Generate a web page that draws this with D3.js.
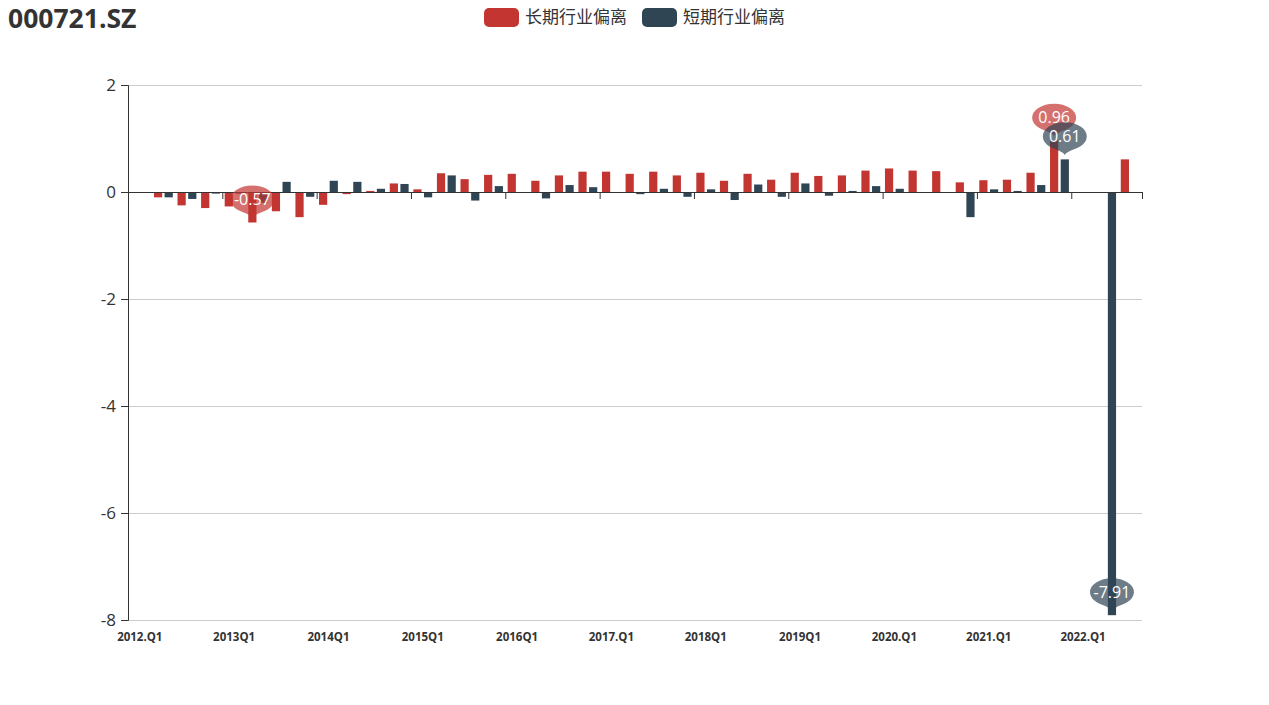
<!DOCTYPE html>
<html><head><meta charset="utf-8">
<script src="https://cdn.jsdelivr.net/npm/d3@7"></script>
<style>html,body{margin:0;padding:0;background:#fff;} svg{display:block;}</style>
</head><body><svg id="c" width="1269" height="705"></svg>
<script>
const categories = [
  "2012.Q1","2012.Q2","2012.Q3","2012.Q4",
  "2013Q1","2013Q2","2013Q3","2013Q4",
  "2014Q1","2014Q2","2014Q3","2014Q4",
  "2015Q1","2015Q2","2015Q3","2015Q4",
  "2016Q1","2016Q2","2016Q3","2016Q4",
  "2017.Q1","2017.Q2","2017.Q3","2017.Q4",
  "2018Q1","2018Q2","2018Q3","2018Q4",
  "2019Q1","2019Q2","2019Q3","2019Q4",
  "2020.Q1","2020.Q2","2020.Q3","2020.Q4",
  "2021.Q1","2021.Q2","2021.Q3","2021.Q4",
  "2022.Q1","2022.Q2","2022.Q3"
];
const seriesNames = ["长期行业偏离", "短期行业偏离"];
const longDev = [null,-0.10,-0.25,-0.30,-0.27,-0.57,-0.36,-0.47,-0.24,-0.04,0.02,0.16,0.05,0.35,0.24,0.32,
  0.34,0.21,0.31,0.38,0.38,0.34,0.38,0.31,0.36,0.21,0.34,0.23,0.36,0.30,0.31,0.40,
  0.44,0.40,0.39,0.18,0.22,0.23,0.36,0.96,null,null,0.61];
const shortDev = [null,-0.10,-0.13,-0.03,-0.03,-0.20,0.19,-0.09,0.21,0.19,0.06,0.15,-0.10,0.31,-0.16,0.11,
  0,-0.12,0.13,0.09,0,-0.04,0.06,-0.09,0.05,-0.15,0.14,-0.09,0.16,-0.07,0.02,0.11,
  0.06,-0.01,0,-0.47,0.05,0.02,0.13,0.61,null,-7.91,null];
const yTicks = [-8,-6,-4,-2,0,2];
const xLabelEvery = 4;
const titleText = "000721.SZ";
const colors = ["#c23531", "#2f4554"];

const svg = d3.select("#c");
const plotL = 128, plotR = 1142, plotT = 85, plotB = 620;
const seriesData = [longDev, shortDev];

const x = d3.scaleBand().domain(categories).range([plotL, plotR]).paddingInner(0).paddingOuter(0);
const xs = d3.scaleBand().domain([0,1]).range([0, x.bandwidth()]).paddingInner(0.3/1.3).paddingOuter(0.2212);
const xIdx = d3.scaleLinear().domain([0, categories.length]).range([plotL, plotR]);
const y = d3.scaleLinear().domain([-8, 2]).range([plotB, plotT]);

// gridlines
svg.append("g").selectAll("line").data(yTicks.filter(t => t !== 0)).join("line")
  .attr("x1", plotL).attr("x2", plotR)
  .attr("y1", d => y(d) + 0.5).attr("y2", d => y(d) + 0.5)
  .attr("stroke", "#ccc").attr("stroke-width", 1);

// bars
seriesData.forEach((arr, s) => {
  svg.append("g").selectAll("rect")
    .data(arr.map((v, i) => ({v, i})).filter(d => d.v !== null && d.v !== 0))
    .join("rect")
    .attr("x", d => x(categories[d.i]) + xs(s))
    .attr("width", xs.bandwidth())
    .attr("y", d => Math.min(y(d.v), y(0)))
    .attr("height", d => Math.abs(y(d.v) - y(0)))
    .attr("fill", colors[s]);
});

// y axis
const yAxis = svg.append("g").attr("transform", `translate(${plotL},0)`)
  .call(d3.axisLeft(y).tickValues(yTicks).tickSize(7).tickPadding(5).tickFormat(d => String(d)));
yAxis.select(".domain").attr("stroke", "#333").attr("d", `M-7,${y(-8)+0.5}H0.5V${y(2)+0.5}H-7`);
yAxis.selectAll(".tick line").attr("stroke", "#333");
yAxis.selectAll(".tick text").attr("fill", "#333").style("font-family", "'Open Sans', sans-serif").style("font-size", "17px");

// x axis line at zero with ticks at boundaries
const tickIdx = d3.range(0, categories.length, xLabelEvery).concat([categories.length]);
const xAxis = svg.append("g").attr("transform", `translate(0,${y(0)})`)
  .call(d3.axisBottom(xIdx).tickValues(tickIdx).tickSize(7).tickFormat(""));
xAxis.select(".domain").attr("stroke", "#333").attr("d", `M${plotL},0.5H${plotR}`);
xAxis.selectAll(".tick line").attr("stroke", "#333");

// x labels at bottom
const labelCats = categories.filter((c, i) => i % xLabelEvery === 0);
const xLab = svg.append("g").attr("transform", `translate(0,${plotB})`)
  .call(d3.axisBottom(x).tickValues(labelCats).tickSize(0).tickPadding(13));
xLab.select(".domain").remove();
xLab.selectAll(".tick text").attr("fill", "#333").style("font-family", "'Open Sans', sans-serif")
  .style("font-size", "11.5px").style("font-weight", "bold");

// mark points (max & min of each series)
function pinPath(D) {
  const dy = 1 / D, a = Math.asin(Math.min(dy, 0.99)), dx = Math.cos(a);
  const tx = Math.sin(a), ty = Math.cos(a), cp = 0.3, cp2 = 0.25;
  return `M${-dx},${dy}A1,1 0 1 1 ${dx},${dy}C${dx - tx*cp},${dy + ty*cp} 0,${D - cp2} 0,${D}C0,${D - cp2} ${-dx + tx*cp},${dy + ty*cp} ${-dx},${dy}Z`;
}
const pinRx = 22, pinRy = 14, pinLift = 23, tipGap = 4;
seriesData.forEach((arr, s) => {
  const vals = arr.map(v => v === null ? NaN : v);
  const idxs = [d3.maxIndex(vals), d3.minIndex(vals)];
  const g = svg.append("g");
  idxs.forEach(i => {
    const v = arr[i];
    const cx = x(categories[i]) + xs(s) + xs.bandwidth() / 2;
    const cy = y(v) - pinLift;
    g.append("path").attr("d", pinPath((pinLift - tipGap) / pinRy))
      .attr("transform", `translate(${cx},${cy}) scale(${pinRx},${pinRy})`)
      .attr("fill", colors[s]).attr("fill-opacity", 0.7);
    g.append("text").attr("x", cx).attr("y", cy).attr("dy", "0.35em")
      .attr("text-anchor", "middle").attr("fill", "#fff")
      .style("font-family", "'Open Sans', sans-serif").style("font-size", "16px")
      .text(v.toFixed(2));
  });
});

// title
svg.append("text").attr("x", 8).attr("y", 28).text(titleText)
  .attr("fill", "#333").style("font-family", "'Open Sans', sans-serif")
  .style("font-size", "26.5px").style("font-weight", "bold");

// legend
const legendX = [484, 642];
seriesNames.forEach((n, s) => {
  const lg = svg.append("g").attr("transform", `translate(${legendX[s]},8)`);
  lg.append("rect").attr("width", 35).attr("height", 19).attr("rx", 5).attr("fill", colors[s]);
  lg.append("text").attr("x", 41).attr("y", 9.5).attr("dy", "0.35em").text(n)
    .attr("fill", "#333").style("font-family", "'Noto Sans CJK SC', sans-serif").style("font-size", "17px");
});
</script></body></html>
